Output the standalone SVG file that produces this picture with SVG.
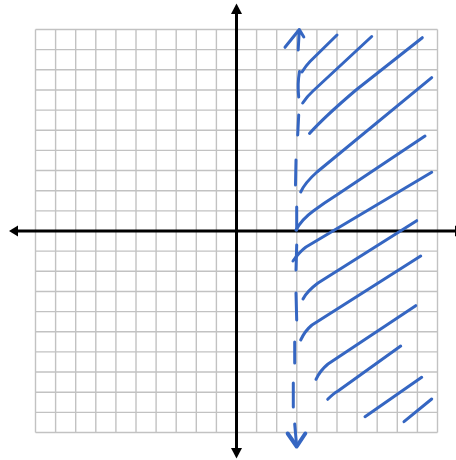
<svg xmlns="http://www.w3.org/2000/svg" width="456" height="460" viewBox="0 0 456 460">
<style>
.grid{stroke:#c2c2c2;stroke-width:1.4;fill:none}
.axis{stroke:#000;stroke-width:3;fill:none}
.head{fill:#000;stroke:none}
.ink{stroke:#3566c2;stroke-width:3;fill:none;stroke-linecap:round;stroke-linejoin:round}
</style>
<rect width="456" height="460" fill="#fff"/>
<g id="grid">
<path class="grid" d="M35.5,29.5V432.5M55.6,29.5V432.5M75.7,29.5V432.5M95.8,29.5V432.5M115.9,29.5V432.5M136,29.5V432.5M156.1,29.5V432.5M176.2,29.5V432.5M196.3,29.5V432.5M216.4,29.5V432.5M256.6,29.5V432.5M276.7,29.5V432.5M296.8,29.5V432.5M316.9,29.5V432.5M337,29.5V432.5M357.1,29.5V432.5M377.2,29.5V432.5M397.3,29.5V432.5M417.4,29.5V432.5M437.5,29.5V432.5"/>
<path class="grid" d="M35.5,29.5H437.5M35.5,49.65H437.5M35.5,69.8H437.5M35.5,89.95H437.5M35.5,110.1H437.5M35.5,130.25H437.5M35.5,150.4H437.5M35.5,170.55H437.5M35.5,190.7H437.5M35.5,210.85H437.5M35.5,251.15H437.5M35.5,271.3H437.5M35.5,291.45H437.5M35.5,311.6H437.5M35.5,331.75H437.5M35.5,351.9H437.5M35.5,372.05H437.5M35.5,392.2H437.5M35.5,412.35H437.5M35.5,432.5H437.5"/>
</g>
<g id="axes">
<path class="axis" d="M236.5,12V450M15,231H457"/>
<path class="head" d="M236.5,3.5L242,14H231Z"/>
<path class="head" d="M236.5,458.5L242,448H231Z"/>
<path class="head" d="M9,231L18,225.5V236.5Z"/>
<path class="head" d="M464,231L455,225.5V236.5Z"/>
</g>
<g id="boundary">
<path class="ink" d="M285,47.3L299.3,29.5L303.8,37M299.3,29.5L298.2,50"/>
<path class="ink" d="M299.5,71.5Q297.3,84 298.7,97"/>
<path class="ink" d="M298.7,115L297.7,135"/>
<path class="ink" d="M296,160L295.5,185"/>
<path class="ink" d="M296.7,207L296.7,230"/>
<path class="ink" d="M296.7,245L296,270"/>
<path class="ink" d="M296,293L296.7,320"/>
<path class="ink" d="M294.7,342L294.7,363"/>
<path class="ink" d="M293.3,383L293.3,407"/>
<path class="ink" d="M294.7,424L296.7,446.5"/>
<path class="ink" style="stroke-width:4" d="M287.7,433.5L296.7,446.5L305.3,433.5"/>
</g>
<g id="shading">
<path class="ink" d="M302,72C304.5,68 307,64.5 310,61.5L337,35"/>
<path class="ink" d="M302.7,103C305,99.5 308.5,95 313,91L371.7,36.5"/>
<path class="ink" d="M309.5,133.5C318,124 336,107 356,90L422.3,37.7"/>
<path class="ink" d="M300.7,192C303,187 308,180 317,172L431.7,77.7"/>
<path class="ink" d="M296,230C299,224.5 305,217 313.3,211C320,206 328,200.5 336.7,195L425,136"/>
<path class="ink" d="M293,261C296.5,256 300.5,251 306,247L431.7,172.3"/>
<path class="ink" d="M303,299C305.5,294 310,289 318,283L416.7,220.7"/>
<path class="ink" d="M300.7,340C303,335 306.5,329.5 312,325L420.7,256"/>
<path class="ink" d="M316,379.3C318.5,374 322,369 328,364L415.7,305.7"/>
<path class="ink" d="M327.7,399.3C331,396 334,393 338,391L400.7,346"/>
<path class="ink" d="M365,416.7L421.7,377.3"/>
<path class="ink" d="M404,421.7L431.7,399"/>
</g>
</svg>
